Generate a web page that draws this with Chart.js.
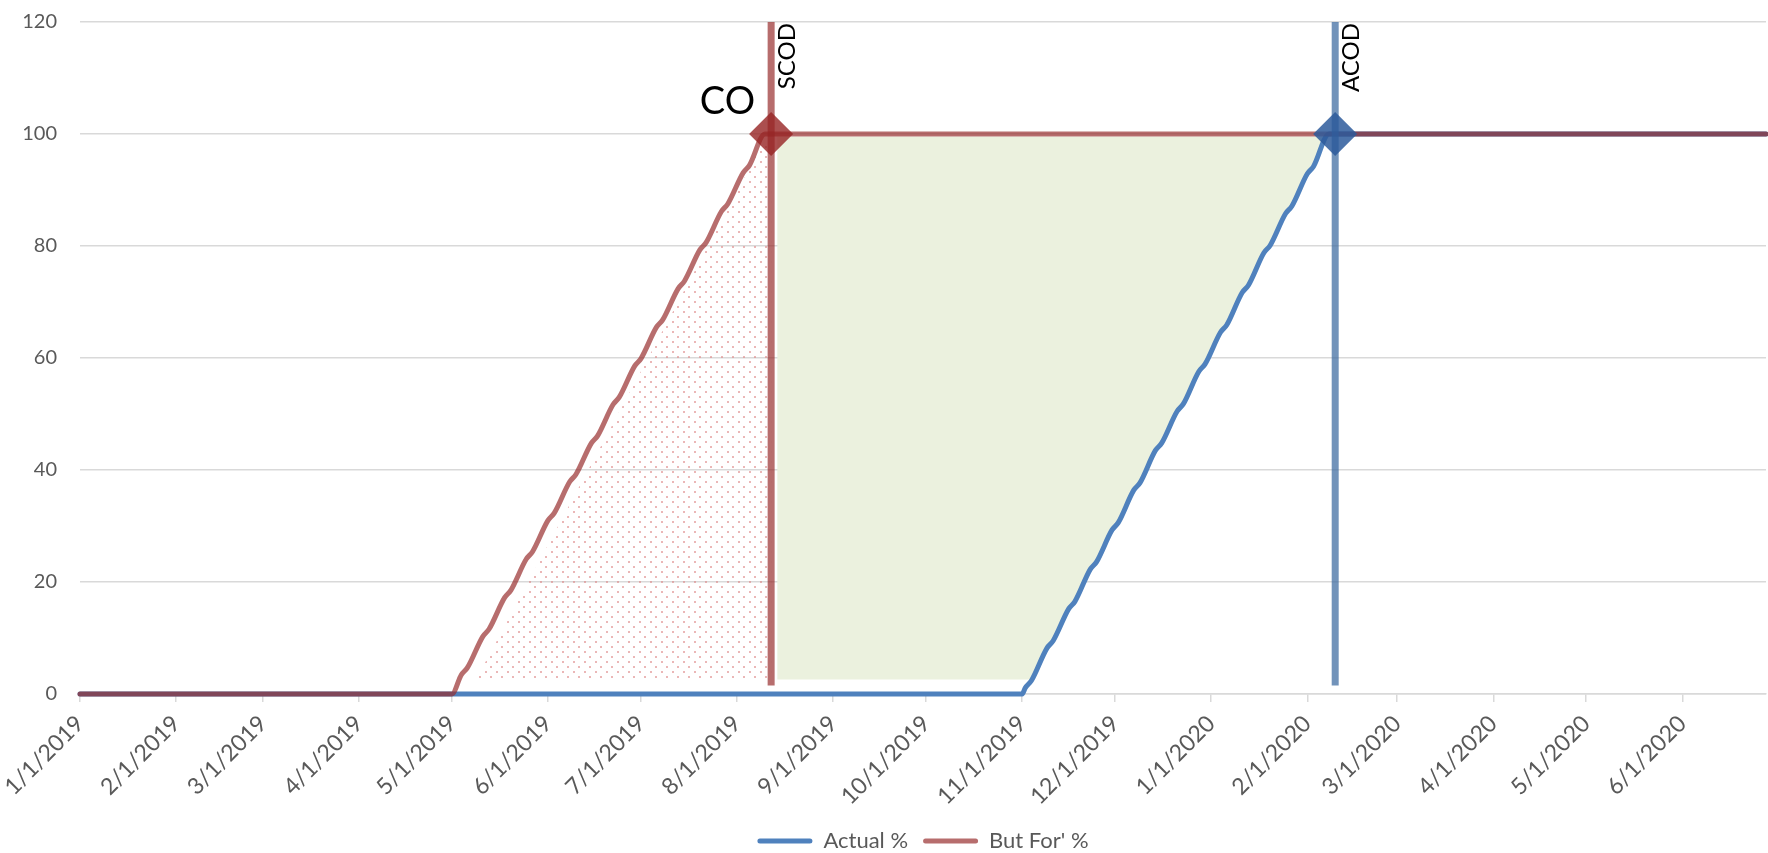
<!DOCTYPE html>
<html>
<head>
<meta charset="utf-8">
<script src="https://cdn.jsdelivr.net/npm/chart.js@4.4.1/dist/chart.umd.min.js"></script>
<style>
html, body { margin: 0; padding: 0; background: #ffffff; overflow: hidden; }
#wrap { width: 1768px; height: 853px; position: relative; overflow: hidden; }
#c { position: absolute; left: 0; top: 0; }
</style>
</head>
<body>
<div id="wrap"><canvas id="c" width="1788" height="853"></canvas></div>
<script>
// ---------------- data ----------------
const xTickLabels = ['1/1/2019','2/1/2019','3/1/2019','4/1/2019','5/1/2019','6/1/2019','7/1/2019','8/1/2019','9/1/2019','10/1/2019','11/1/2019','12/1/2019','1/1/2020','2/1/2020','3/1/2020','4/1/2020','5/1/2020','6/1/2020'];
const axisStartDate = '2019-01-01';
const axisEndDate = '2020-06-28';
const yTickValues = [0, 20, 40, 60, 80, 100, 120];

const seriesNames = ['Actual %', "But For' %"];

const actualDates = ['2019-01-01','2019-11-01','2019-11-02','2019-11-04','2019-11-09','2019-11-11','2019-11-16','2019-11-18','2019-11-23','2019-11-25','2019-11-30','2019-12-02','2019-12-07','2019-12-09','2019-12-14','2019-12-16','2019-12-21','2019-12-23','2019-12-28','2019-12-30','2020-01-04','2020-01-06','2020-01-11','2020-01-13','2020-01-18','2020-01-20','2020-01-25','2020-01-27','2020-02-01','2020-02-03','2020-02-08','2020-06-28'];
const actualValues = [0, 0, 1.1, 2.4, 8.2, 9.5, 15.2, 16.5, 22.3, 23.6, 29.3, 30.6, 36.4, 37.7, 43.5, 44.8, 50.5, 51.8, 57.6, 58.9, 64.6, 65.9, 71.7, 73.0, 78.8, 80.1, 85.8, 87.1, 92.9, 94.2, 100, 100];

const butForDates = ['2019-01-01','2019-05-01','2019-05-04','2019-05-06','2019-05-11','2019-05-13','2019-05-18','2019-05-20','2019-05-25','2019-05-27','2019-06-01','2019-06-03','2019-06-08','2019-06-10','2019-06-15','2019-06-17','2019-06-22','2019-06-24','2019-06-29','2019-07-01','2019-07-06','2019-07-08','2019-07-13','2019-07-15','2019-07-20','2019-07-22','2019-07-27','2019-07-29','2019-08-03','2019-08-05','2019-08-10','2020-06-28'];
const butForValues = [0, 0, 3.4, 4.7, 10.3, 11.6, 17.2, 18.5, 24.1, 25.4, 31.0, 32.3, 37.9, 39.2, 44.8, 46.1, 51.7, 53.0, 58.6, 59.9, 65.5, 66.8, 72.4, 73.7, 79.3, 80.6, 86.2, 87.5, 93.1, 94.4, 100, 100];

// milestones
const scodDate = '2019-08-12';
const acodDate = '2020-02-10';
const milestoneValue = 100;
const milestoneLineRange = [1.5, 120];
const coLabel = 'CO';
const scodLabel = 'SCOD';
const acodLabel = 'ACOD';

// dotted (delay before SCOD) area outline
const dotAreaDates = ['2019-05-09', '2019-08-10', '2019-08-12', '2019-08-12'];
const dotAreaValues = [2.8, 99, 99, 2.8];

// green (gap) area corners; its right side follows the Actual % curve
const gapCornerDates = ['2019-11-04', '2019-08-14', '2019-08-14', '2020-02-08'];
const gapCornerValues = [2.6, 2.6, 99.5, 99.5];

// ---------------- helpers ----------------
const DAY_MS = 86400000;
const T0 = Date.UTC(2019, 0, 1);
const isoDay = s => { const [y, m, d] = s.split('-').map(Number); return (Date.UTC(y, m - 1, d) - T0) / DAY_MS; };
const labelDay = s => { const [m, d, y] = s.split('/').map(Number); return (Date.UTC(y, m - 1, d) - T0) / DAY_MS; };
const pts = (dates, vals) => dates.map((d, i) => ({ x: isoDay(d), y: vals[i] }));

const actualPts = pts(actualDates, actualValues);
const butForPts = pts(butForDates, butForValues);
const gapCorners = pts(gapCornerDates, gapCornerValues);
const gapTop = gapCornerValues[2];
const gapBottom = gapCornerValues[0];
const gapPolygon = gapCorners.concat(
  actualPts.filter(p => p.x < gapCorners[3].x && p.y > gapBottom && p.y < gapTop).reverse()
);

const BLUE = '#4F81BD';
const RED = 'rgba(150,44,44,0.69)';
const BLUE_V = 'rgba(60,105,160,0.72)';
const GRID = '#d9d9d9';
const TXT = '#595959';
const FONT = 'Lato, "Open Sans", sans-serif';

function dotPattern() {
  const c = document.createElement('canvas');
  c.width = 11; c.height = 10;
  const g = c.getContext('2d');
  g.fillStyle = 'rgba(222,135,135,0.6)';
  g.fillRect(1, 1, 2, 2);
  g.fillRect(6, 6, 2, 2);
  return g.createPattern(c, 'repeat');
}

Chart.defaults.font.family = FONT;
Chart.defaults.color = TXT;

const annotations = {
  id: 'annotations',
  afterDatasetsDraw(chart) {
    const { ctx, scales: { x, y } } = chart;
    ctx.save();
    ctx.fillStyle = '#000000';
    ctx.font = '38px ' + FONT;
    ctx.textAlign = 'right';
    ctx.textBaseline = 'alphabetic';
    ctx.fillText(coLabel, x.getPixelForValue(isoDay(scodDate)) - 16, y.getPixelForValue(milestoneValue) - 20);
    ctx.font = '24px ' + FONT;
    [[scodLabel, scodDate], [acodLabel, acodDate]].forEach(([lab, d]) => {
      ctx.save();
      ctx.translate(x.getPixelForValue(isoDay(d)) + 24, y.getPixelForValue(milestoneLineRange[1]) + 1);
      ctx.rotate(-Math.PI / 2);
      ctx.textAlign = 'right';
      ctx.fillText(lab, 0, 0);
      ctx.restore();
    });
    ctx.restore();
  }
};

new Chart(document.getElementById('c'), {
  type: 'line',
  data: {
    datasets: [
      { label: seriesNames[0], data: actualPts, borderColor: BLUE, backgroundColor: BLUE, borderWidth: 5, clip: false,
        pointRadius: 0, fill: false, cubicInterpolationMode: 'monotone', borderCapStyle: 'round', borderJoinStyle: 'round', order: 6 },
      { label: seriesNames[1], data: butForPts, borderColor: RED, backgroundColor: RED, borderWidth: 5, clip: false,
        pointRadius: 0, fill: false, cubicInterpolationMode: 'monotone', borderCapStyle: 'round', borderJoinStyle: 'round', order: 5 },
      { label: 'gap', data: gapPolygon, borderWidth: 0, borderColor: 'rgba(0,0,0,0)', backgroundColor: '#EBF1DE',
        pointRadius: 0, fill: 'shape', tension: 0, order: 10 },
      { label: 'dots', data: pts(dotAreaDates, dotAreaValues), borderWidth: 0, borderColor: 'rgba(0,0,0,0)', backgroundColor: dotPattern(),
        pointRadius: 0, fill: 'shape', tension: 0, order: 9 },
      { label: 'scodLine', data: milestoneLineRange.map(v => ({ x: isoDay(scodDate), y: v })), borderColor: RED, borderWidth: 7,
        pointRadius: 0, fill: false, borderCapStyle: 'butt', order: 4 },
      { label: 'acodLine', data: milestoneLineRange.map(v => ({ x: isoDay(acodDate), y: v })), borderColor: BLUE_V, borderWidth: 7,
        pointRadius: 0, fill: false, borderCapStyle: 'butt', order: 4 },
      { label: 'co', data: [{ x: isoDay(scodDate), y: milestoneValue }], showLine: false, pointStyle: 'rectRot',
        pointRadius: 22, pointBorderWidth: 0, pointBackgroundColor: 'rgba(150,35,35,0.8)', pointBorderColor: 'rgba(0,0,0,0)', order: 2 },
      { label: 'acod', data: [{ x: isoDay(acodDate), y: milestoneValue }], showLine: false, pointStyle: 'rectRot',
        pointRadius: 22, pointBorderWidth: 0, pointBackgroundColor: 'rgba(45,90,155,0.85)', pointBorderColor: 'rgba(0,0,0,0)', order: 2 }
    ]
  },
  options: {
    responsive: false,
    animation: false,
    devicePixelRatio: 1,
    layout: { padding: { top: 17, bottom: -9, left: 0, right: 0 } },
    scales: {
      x: {
        type: 'linear',
        min: isoDay(axisStartDate),
        max: isoDay(axisEndDate),
        afterBuildTicks: s => { s.ticks = xTickLabels.map(l => ({ value: labelDay(l) })); },
        afterFit: s => { s.height = 121; },
        ticks: { autoSkip: false, minRotation: 45, maxRotation: 45, padding: 8, color: TXT, font: { size: 23 },
          callback: (v, i) => xTickLabels[i] },
        grid: { drawOnChartArea: false, drawTicks: true, tickLength: 8, color: GRID, lineWidth: 1.5 },
        border: { display: true, color: GRID, width: 1.5 }
      },
      y: {
        min: yTickValues[0],
        max: yTickValues[yTickValues.length - 1],
        afterBuildTicks: s => { s.ticks = yTickValues.map(v => ({ value: v })); },
        afterFit: s => { s.width = 80; s.paddingTop = 0; s.paddingBottom = 0; },
        ticks: { padding: 23, color: TXT, font: { size: 20 } },
        grid: { color: GRID, lineWidth: 1.5, drawTicks: false },
        border: { display: false }
      }
    },
    plugins: {
      tooltip: { enabled: false },
      legend: {
        position: 'bottom',
        fullSize: false,
        labels: {
          boxWidth: 55, boxHeight: 5, padding: 15, color: TXT, font: { size: 22 },
          useBorderRadius: true, borderRadius: 2.5,
          sort: (a, b) => a.datasetIndex - b.datasetIndex,
          generateLabels: chart => Chart.defaults.plugins.legend.labels.generateLabels(chart)
            .filter(it => it.datasetIndex < 2)
            .map(it => Object.assign({}, it, { lineWidth: 0, fillStyle: it.strokeStyle }))
        }
      }
    }
  },
  plugins: [annotations]
});
</script>
</body>
</html>
